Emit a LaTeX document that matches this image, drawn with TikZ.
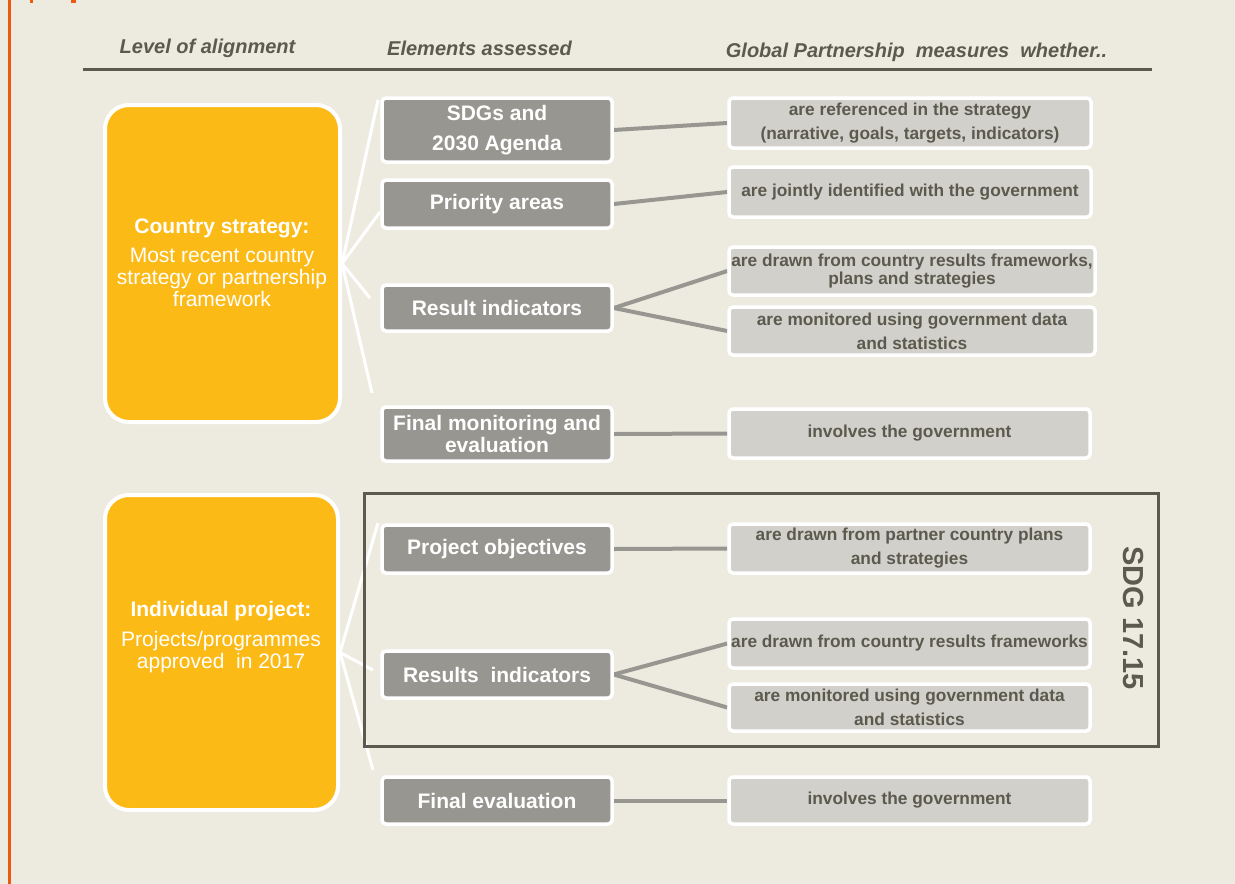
\documentclass[tikz,border=0pt]{standalone}
\usepackage{fontspec}
\setmainfont{Liberation Sans}
\definecolor{bgc}{HTML}{EDEBE0}
\definecolor{gold}{HTML}{FCBA16}
\definecolor{elemgray}{HTML}{989690}
\definecolor{measgray}{HTML}{D1D0CA}
\definecolor{txtdark}{HTML}{5C5A4E}
\definecolor{accent}{HTML}{EC5A0E}
\pgfdeclarelayer{back}
\pgfdeclarelayer{bg}
\pgfsetlayers{back,bg,main}
\begin{document}
\begin{tikzpicture}[x=1pt,y=-1pt,
  elem/.style={draw=white, line width=3.5pt, fill=elemgray, rounded corners=4pt,
    minimum width=230pt, text=white, align=center, inner sep=0pt,
    font=\fontsize{21}{22}\selectfont\bfseries},
  meas/.style={draw=white, line width=3.5pt, fill=measgray, rounded corners=4pt,
    text=txtdark, align=center, inner sep=0pt,
    font=\fontsize{17.3}{24}\selectfont\bfseries},
  level/.style={draw=white, line width=4pt, fill=gold, rounded corners=24pt, inner sep=0pt},
  ltext/.style={text=white, align=center, inner sep=0pt, font=\fontsize{21}{22}\selectfont},
  link/.style={draw=elemgray, line width=4pt},
  fan/.style={draw=white, line width=3pt},
  head/.style={text=txtdark, inner sep=0pt, font=\fontsize{20}{22}\selectfont\bfseries\itshape},
  rule/.style={draw=txtdark, line width=3pt}
]
\useasboundingbox (0,0) rectangle (1235,884);
\begin{pgfonlayer}{back}
\fill[bgc] (0,0) rectangle (1235,884);
\end{pgfonlayer}
\fill[accent] (8,0) rectangle (10.5,884);
\fill[accent] (30,0) rectangle (33,3);
\fill[accent] (71,0) rectangle (76,3);

% headers
\node[head] (h1) at (207.5,48) {Level of alignment};
\node[head] (h2) at (479.5,48) {Elements assessed};
\node[head] (h3) at (916.5,52) {Global Partnership\ \ measures\ \ whether..};
\draw[rule] (83,69) -- (1152,69);

% level boxes
\node[level, minimum width=235pt, minimum height=317pt] (cs) at (222.5,263.5) {};
\node[ltext] (cst) at (222,263) {\textbf{Country strategy:}\\[7pt]Most recent country\\strategy or partnership\\framework};
\node[level, minimum width=233pt, minimum height=315pt] (ip) at (221.5,652.5) {};
\node[ltext] (ipt) at (221,637) {\textbf{Individual project:}\\[8pt]Projects/programmes\\approved\ \ in 2017};

% SDG frame
\node[draw=txtdark, line width=3pt, minimum width=794pt, minimum height=253pt, inner sep=0pt] (frame) at (761.5,620) {};
\node[rotate=-90, text=txtdark, inner sep=0pt, font=\fontsize{29}{32}\selectfont\bfseries] (sdgt) at (1133,618) {SDG 17.15};

% elements
\node[elem, minimum height=64pt, font=\fontsize{21}{30}\selectfont\bfseries] (sdg) at (497,130) {SDGs and\\2030 Agenda};
\node[elem, minimum height=48pt] (prio) at (497,204) {Priority areas};
\node[elem, minimum height=46pt] (res) at (497,308) {Result indicators};
\node[elem, minimum height=54pt] (fme) at (497,434) {Final monitoring and\\evaluation};
\node[elem, minimum height=48pt] (pobj) at (497,549) {Project objectives};
\node[elem, minimum height=47pt] (rind) at (497,674.5) {Results\ \ indicators};
\node[elem, minimum height=47pt] (fev) at (497,800.5) {Final evaluation};

% measures
\node[meas, minimum width=362pt, minimum height=50pt] (m1) at (910,123) {are referenced in the strategy\\(narrative, goals, targets, indicators)};
\node[meas, minimum width=362pt, minimum height=50pt] (m2) at (910,192) {are jointly identified with the government};
\node[meas, minimum width=366pt, minimum height=48pt, font=\fontsize{17.3}{18}\selectfont\bfseries] (m3) at (912,271) {are drawn from country results frameworks,\\plans and strategies};
\node[meas, minimum width=366pt, minimum height=48pt] (m4) at (912,331) {are monitored using government data\\and statistics};
\node[meas, minimum width=361pt, minimum height=49pt] (m5) at (909.5,433.5) {involves the government};
\node[meas, minimum width=361pt, minimum height=49pt] (m6) at (909.5,548.5) {are drawn from partner country plans\\and strategies};
\node[meas, minimum width=361pt, minimum height=49pt] (m7) at (909.5,643.5) {are drawn from country results frameworks};
\node[meas, minimum width=361pt, minimum height=47pt] (m8) at (909.5,707.5) {are monitored using government data\\and statistics};
\node[meas, minimum width=361pt, minimum height=47pt] (m9) at (909.5,800.5) {involves the government};

% fan end points
\coordinate (f1) at (378,100);
\coordinate (f2) at (380,212);
\coordinate (f3) at (370,298);
\coordinate (f4) at (372,393);
\coordinate (f5) at (378,523);
\coordinate (f6) at (373,670);
\coordinate (f7) at (373,770);

\begin{pgfonlayer}{bg}
\draw[fan] (cs.east) -- (f1);
\draw[fan] (cs.east) -- (f2);
\draw[fan] (cs.east) -- (f3);
\draw[fan] (cs.east) -- (f4);
\draw[fan] (ip.east) -- (f5);
\draw[fan] (ip.east) -- (f6);
\draw[fan] (ip.east) -- (f7);
\draw[link] (sdg.east) -- (m1.west);
\draw[link] (prio.east) -- (m2.west);
\draw[link] (res.east) -- (m3.west);
\draw[link] (res.east) -- (m4.west);
\draw[link] (fme.east) -- (m5.west);
\draw[link] (pobj.east) -- (m6.west);
\draw[link] (rind.east) -- (m7.west);
\draw[link] (rind.east) -- (m8.west);
\draw[link] (fev.east) -- (m9.west);
\end{pgfonlayer}
\end{tikzpicture}
\end{document}
